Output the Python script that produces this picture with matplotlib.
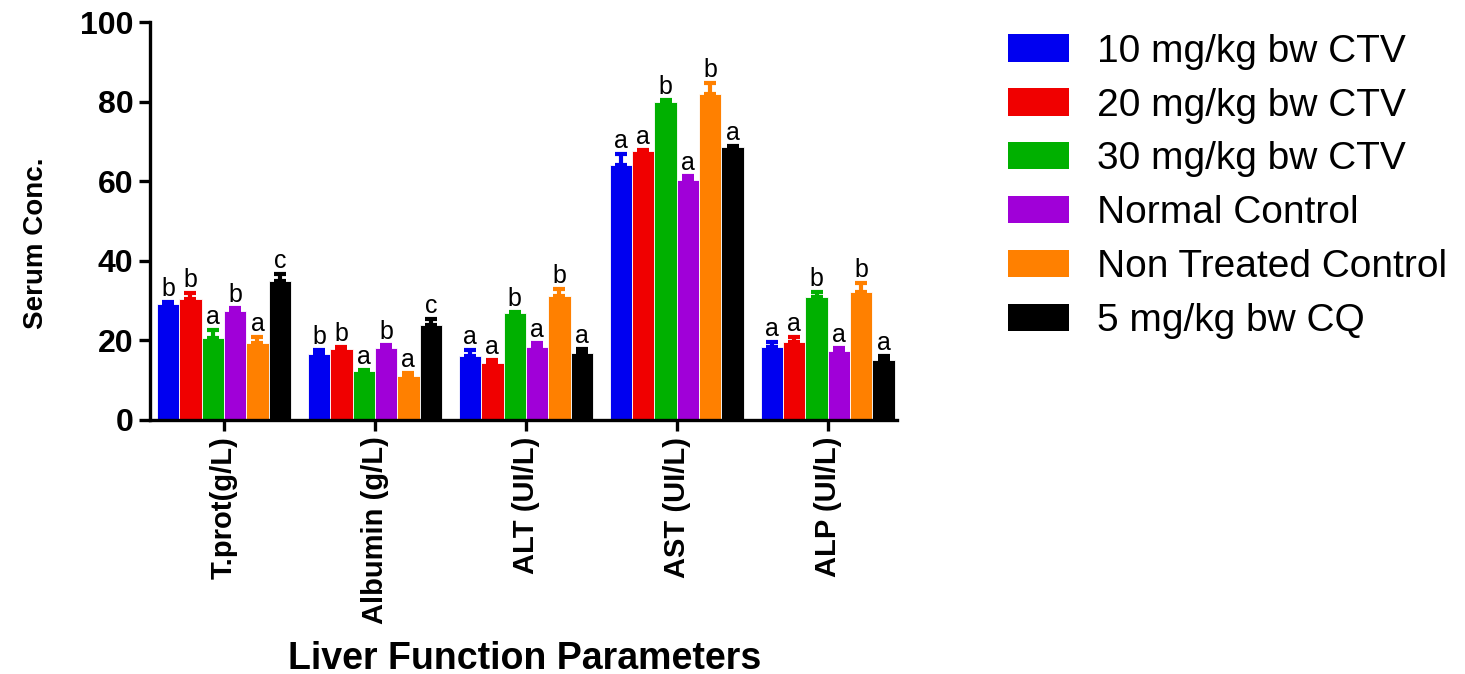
import numpy as np
import matplotlib.pyplot as plt
from matplotlib.patches import Patch

plt.rcParams['font.family'] = ['Liberation Sans', 'DejaVu Sans']

params = ["T.prot(g/L)", "Albumin (g/L)", "ALT (UI/L)", "AST (UI/L)", "ALP (UI/L)"]
groups = ["10 mg/kg bw CTV", "20 mg/kg bw CTV", "30 mg/kg bw CTV",
          "Normal Control", "Non Treated Control", "5 mg/kg bw CQ"]
colors = ["#0000F0", "#F00000", "#00B000", "#A000D8", "#FF8000", "#000000"]

# mean values, one list per group (order follows params)
dose10 = [29.1, 16.6, 16.1, 64.1, 18.3]
dose20 = [30.4, 17.8, 14.3, 67.6, 19.6]
dose30 = [20.6, 12.3, 26.9, 79.9, 30.9]
normal = [27.4, 18.1, 18.3, 60.3, 17.3]
nontreated = [19.4, 11.0, 31.2, 81.9, 32.2]
cq = [34.9, 23.9, 16.8, 68.6, 15.1]

# upper error (SEM)
err10 = [0.6, 1.0, 1.5, 2.7, 1.3]
err20 = [1.6, 0.6, 0.7, 0.3, 1.2]
err30 = [2.0, 0.3, 0.3, 0.5, 1.3]
errn = [0.7, 0.7, 1.0, 1.0, 0.8]
errnt = [1.4, 0.8, 1.7, 2.8, 2.2]
errcq = [1.8, 1.5, 1.0, 0.3, 1.0]

# significance letters
let10 = ["b", "b", "a", "a", "a"]
let20 = ["b", "b", "a", "a", "a"]
let30 = ["a", "a", "b", "b", "b"]
letn = ["b", "b", "a", "a", "a"]
letnt = ["a", "a", "b", "b", "b"]
letcq = ["c", "c", "a", "a", "a"]

means = [dose10, dose20, dose30, normal, nontreated, cq]
errs = [err10, err20, err30, errn, errnt, errcq]
letters = [let10, let20, let30, letn, letnt, letcq]

fig = plt.figure(figsize=(14.65, 6.74), dpi=100)
ax = fig.add_axes([0.1024, 0.377, 0.510, 0.590])

x = np.arange(len(params))
w = 0.148
for i in range(len(groups)):
    pos = x + (i - 2.5) * w
    ax.bar(pos, means[i], width=w, color=colors[i], edgecolor="white",
           linewidth=0.6, zorder=2)
    ax.errorbar(pos, means[i], yerr=[np.zeros(len(params)), errs[i]],
                fmt="none", ecolor=colors[i], elinewidth=3, capsize=4,
                capthick=3, zorder=3)
    for j in range(len(params)):
        ax.text(pos[j], means[i][j] + errs[i][j] + 0.2, letters[i][j],
                ha="center", va="bottom", fontsize=18)

ax.set_xlim(-0.49, 4.46)
ax.set_ylim(0, 100)
ax.set_yticks(np.arange(0, 101, 20))
ax.set_xticks(x)
ax.set_xticklabels(params, rotation=90, fontsize=21, fontweight="bold")
for t in ax.get_yticklabels():
    t.set_fontsize(23)
    t.set_fontweight("bold")

for s in ["top", "right"]:
    ax.spines[s].set_visible(False)
for s in ["left", "bottom"]:
    ax.spines[s].set_linewidth(2.4)
ax.tick_params(axis="both", length=8, width=2.4, pad=4)

ax.set_ylabel("Serum Conc.", fontsize=20, fontweight="bold")
ax.yaxis.set_label_coords(-0.135, 0.445)
fig.text(0.358, 0.008, "Liver Function Parameters", ha="center",
         va="baseline", fontsize=27, fontweight="bold")

handles = [Patch(facecolor=c, edgecolor="none") for c in colors]
fig.legend(handles, groups, loc="upper left", bbox_to_anchor=(0.688, 0.950),
           frameon=False, fontsize=28, handlelength=1.57, handleheight=0.7,
           handletextpad=0.72, labelspacing=0.46, borderpad=0, borderaxespad=0)

fig.savefig("out.png", dpi=100)
